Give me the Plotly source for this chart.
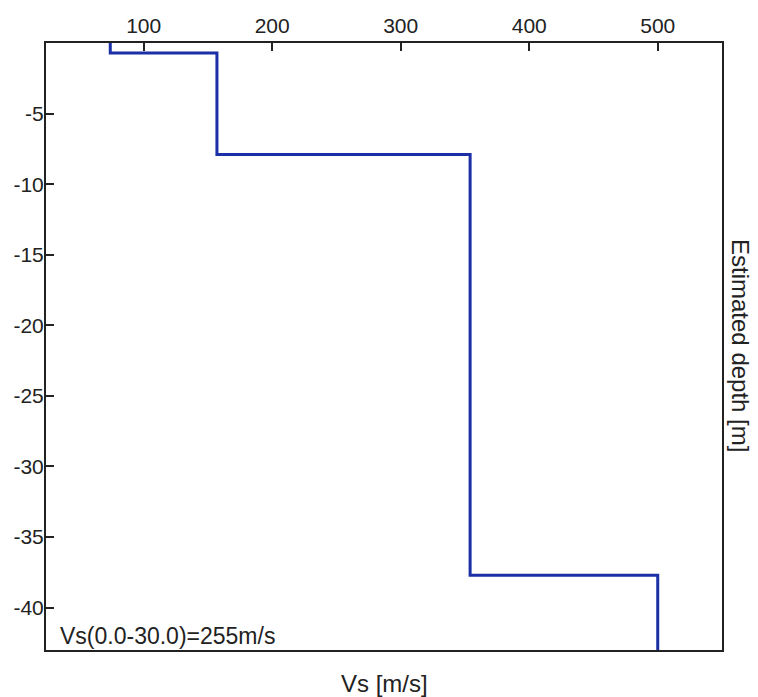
import plotly.graph_objects as go

# Layer model
vs_values = [74, 157, 354, 500]          # shear-wave velocity of each layer [m/s]
layer_top = [0.0, 0.7, 7.9, 37.7]        # depth of layer top [m]
layer_bottom = [0.7, 7.9, 37.7, 43.0]    # depth of layer bottom [m]

x_ticks = [100, 200, 300, 400, 500]
y_ticks = [-5, -10, -15, -20, -25, -30, -35, -40]
y_tick_labels = ["-5", "-10", "-15", "-20", "-25", "-30", "-35", "-40"]

vs30_label = "Vs(0.0-30.0)=255m/s"
x_title = "Vs [m/s]"
y_title = "Estimated depth [m]"

# Step profile from layers
xs, ys = [], []
for v, t, b in zip(vs_values, layer_top, layer_bottom):
    xs += [v, v]
    ys += [-t, -b]

OFF = 8  # page body margin
W, H = 750, 689
L, T = 46 - OFF, 43 - OFF
R = W - (722 - OFF)
B = H - (650 - OFF)
pw, ph = W - L - R, H - T - B

def px_x(p):  # reference-screen pixel -> paper coordinate
    return (p - OFF - L) / pw

def px_y(p):
    return (H - B - (p - OFF)) / ph

fig = go.Figure()
fig.add_trace(go.Scatter(x=xs, y=ys, mode="lines",
                         line=dict(color="#1b2fa6", width=3),
                         showlegend=False, hoverinfo="skip"))

tick_font = dict(family="Liberation Sans, Arial, sans-serif", size=21, color="#222")
fig.update_layout(
    width=W, height=H,
    margin=dict(l=L, r=R, t=T, b=B, autoexpand=False),
    paper_bgcolor="white", plot_bgcolor="white",
    xaxis=dict(range=[24, 550], side="top", tickvals=x_ticks, automargin=False,
               ticks="inside", ticklen=8, tickwidth=2, tickcolor="#222",
               showline=True, mirror=True, linecolor="#222", linewidth=2,
               showgrid=False, zeroline=False, tickfont=tick_font),
    yaxis=dict(range=[-43, 0], tickvals=y_ticks, ticktext=y_tick_labels,
               automargin=False, ticklabelstandoff=-4,
               ticks="inside", ticklen=8, tickwidth=2, tickcolor="#222",
               showline=True, mirror=True, linecolor="#222", linewidth=2,
               showgrid=False, zeroline=False, tickfont=tick_font),
    font=dict(family="Liberation Sans, Arial, sans-serif", color="#222"),
)

fig.add_annotation(text=vs30_label, xref="paper", yref="paper",
                   x=px_x(58), y=px_y(636), xanchor="left", yanchor="middle",
                   showarrow=False, font=dict(size=23, color="#222"))
fig.add_annotation(text=x_title, xref="paper", yref="paper",
                   x=px_x(384), y=px_y(683), xanchor="center", yanchor="middle",
                   showarrow=False, font=dict(size=24, color="#222"))
fig.add_annotation(text=y_title, xref="paper", yref="paper",
                   x=px_x(741), y=px_y(345), xanchor="center", yanchor="middle",
                   textangle=90, showarrow=False, font=dict(size=24, color="#222"))

fig.write_html("out.html")
